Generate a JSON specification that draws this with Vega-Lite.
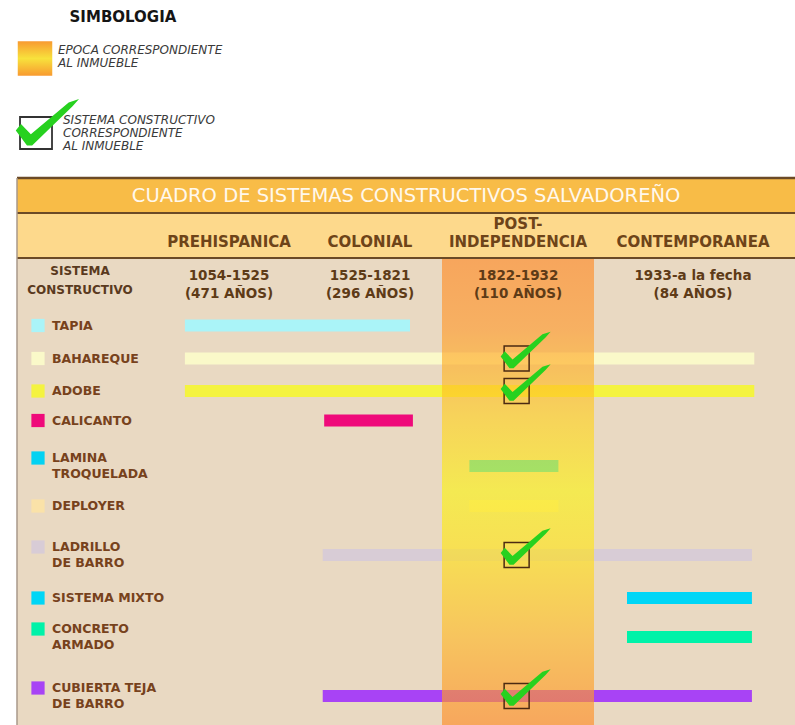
{
  "$schema": "https://vega.github.io/schema/vega-lite/v6.json",
  "width": 795,
  "height": 725,
  "padding": 0,
  "autosize": {"type": "none"},
  "background": "#ffffff",
  "config": {"view": {"stroke": null}, "axis": {"disable": true}, "font": "DejaVu Sans"},
  "datasets": {
    "sistemas": [
      {"orden": 1, "sistema": "TAPIA", "etiqueta": "TAPIA", "desde": 1139, "hasta": 1756, "marcado": false},
      {"orden": 2, "sistema": "BAHAREQUE", "etiqueta": "BAHAREQUE", "desde": 1139, "hasta": 2001, "marcado": true},
      {"orden": 3, "sistema": "ADOBE", "etiqueta": "ADOBE", "desde": 1139, "hasta": 2001, "marcado": true},
      {"orden": 4, "sistema": "CALICANTO", "etiqueta": "CALICANTO", "desde": 1579, "hasta": 1762, "marcado": false},
      {"orden": 5, "sistema": "LAMINA TROQUELADA", "etiqueta": "LAMINA\nTROQUELADA", "desde": 1842, "hasta": 1907, "marcado": false},
      {"orden": 6, "sistema": "DEPLOYER", "etiqueta": "DEPLOYER", "desde": 1842, "hasta": 1907, "marcado": false},
      {"orden": 7, "sistema": "LADRILLO DE BARRO", "etiqueta": "LADRILLO\nDE BARRO", "desde": 1576, "hasta": 2000, "marcado": true},
      {"orden": 8, "sistema": "SISTEMA MIXTO", "etiqueta": "SISTEMA MIXTO", "desde": 1947, "hasta": 2000, "marcado": false},
      {"orden": 9, "sistema": "CONCRETO ARMADO", "etiqueta": "CONCRETO\nARMADO", "desde": 1947, "hasta": 2000, "marcado": false},
      {"orden": 10, "sistema": "CUBIERTA TEJA DE BARRO", "etiqueta": "CUBIERTA TEJA\nDE BARRO", "desde": 1576, "hasta": 2000, "marcado": true}
    ],
    "periodos": [
      {"nombre": "PREHISPANICA", "desde": 1054, "hasta": 1525, "fechas": "1054-1525\n(471 AÑOS)", "resaltado": false},
      {"nombre": "COLONIAL", "desde": 1525, "hasta": 1822, "fechas": "1525-1821\n(296 AÑOS)", "resaltado": false},
      {"nombre": "POST-\nINDEPENDENCIA", "desde": 1822, "hasta": 1933, "fechas": "1822-1932\n(110 AÑOS)", "resaltado": true},
      {"nombre": "CONTEMPORANEA", "desde": 1933, "hasta": 2017, "fechas": "1933-a la fecha\n(84 AÑOS)", "resaltado": false}
    ],
    "encabezado": [
      {"titulo": "CUADRO DE SISTEMAS CONSTRUCTIVOS SALVADOREÑO", "columna": "SISTEMA\nCONSTRUCTIVO"}
    ],
    "simbologia": [
      {"simbolo": "titulo", "texto": "SIMBOLOGIA"},
      {"simbolo": "epoca", "texto": "EPOCA CORRESPONDIENTE\nAL INMUEBLE"},
      {"simbolo": "sistema", "texto": "SISTEMA CONSTRUCTIVO\nCORRESPONDIENTE\nAL INMUEBLE"}
    ]
  },
  "layer": [
    {
      "data": {"name": "encabezado"},
      "mark": {"type": "rect", "fill": "#F8BC47"},
      "encoding": {
        "x": {"datum": 112, "type": "quantitative", "scale": {"domain": [0, 1054, 1525, 1822, 1933, 2017], "range": [0, 160, 298, 442, 594, 792], "zero": false, "nice": false}},
        "x2": {"datum": 2040},
        "y": {"datum": -5, "type": "quantitative", "scale": {"domain": [-8, -7, -6, -5, -4, -3, -2, -1, 0, 1, 2, 3, 4, 5, 6, 7, 8, 9, 10, 11], "range": [17, 58.5, 133, 178, 196, 213, 242, 258, 284, 325.5, 358.5, 391, 420.5, 466, 506, 555, 598, 637, 696, 725], "zero": false, "nice": false}},
        "y2": {"datum": -3}
      }
    },
    {
      "data": {"name": "encabezado"},
      "mark": {"type": "rect", "fill": "#FDD98C"},
      "encoding": {
        "x": {"datum": 112, "type": "quantitative", "scale": {"domain": [0, 1054, 1525, 1822, 1933, 2017], "range": [0, 160, 298, 442, 594, 792], "zero": false, "nice": false}},
        "x2": {"datum": 2040},
        "y": {"datum": -3, "type": "quantitative", "scale": {"domain": [-8, -7, -6, -5, -4, -3, -2, -1, 0, 1, 2, 3, 4, 5, 6, 7, 8, 9, 10, 11], "range": [17, 58.5, 133, 178, 196, 213, 242, 258, 284, 325.5, 358.5, 391, 420.5, 466, 506, 555, 598, 637, 696, 725], "zero": false, "nice": false}},
        "y2": {"datum": -1}
      }
    },
    {
      "data": {"name": "encabezado"},
      "mark": {"type": "rect", "fill": "#E9D9C2"},
      "encoding": {
        "x": {"datum": 112, "type": "quantitative", "scale": {"domain": [0, 1054, 1525, 1822, 1933, 2017], "range": [0, 160, 298, 442, 594, 792], "zero": false, "nice": false}},
        "x2": {"datum": 2040},
        "y": {"datum": -1, "type": "quantitative", "scale": {"domain": [-8, -7, -6, -5, -4, -3, -2, -1, 0, 1, 2, 3, 4, 5, 6, 7, 8, 9, 10, 11], "range": [17, 58.5, 133, 178, 196, 213, 242, 258, 284, 325.5, 358.5, 391, 420.5, 466, 506, 555, 598, 637, 696, 725], "zero": false, "nice": false}},
        "y2": {"datum": 11}
      }
    },
    {
      "data": {"name": "sistemas"},
      "mark": {"type": "rule", "strokeWidth": 12, "strokeCap": "butt", "opacity": 1},
      "encoding": {
        "x": {"field": "desde", "type": "quantitative", "scale": {"domain": [0, 1054, 1525, 1822, 1933, 2017], "range": [0, 160, 298, 442, 594, 792], "zero": false, "nice": false}},
        "x2": {"field": "hasta"},
        "y": {"field": "orden", "type": "quantitative", "scale": {"domain": [-8, -7, -6, -5, -4, -3, -2, -1, 0, 1, 2, 3, 4, 5, 6, 7, 8, 9, 10, 11], "range": [17, 58.5, 133, 178, 196, 213, 242, 258, 284, 325.5, 358.5, 391, 420.5, 466, 506, 555, 598, 637, 696, 725], "zero": false, "nice": false}},
        "color": {"field": "sistema", "type": "nominal", "legend": null, "scale": {"domain": ["TAPIA", "BAHAREQUE", "ADOBE", "CALICANTO", "LAMINA TROQUELADA", "DEPLOYER", "LADRILLO DE BARRO", "SISTEMA MIXTO", "CONCRETO ARMADO", "CUBIERTA TEJA DE BARRO"], "range": ["#AAF4F8", "#FAF9C9", "#F4F33F", "#EF0A7A", "#04D2F2", "#FAE2A8", "#D8CCD6", "#00D6F6", "#00F2A8", "#A843F5"]}}
      }
    },
    {
      "data": {"name": "periodos"},
      "transform": [{"filter": {"field": "resaltado", "equal": true}}],
      "mark": {
        "type": "rect",
        "fillOpacity": 0.65,
        "fill": {
          "gradient": "linear", "x1": 0, "y1": 0, "x2": 0, "y2": 1,
          "stops": [
            {"offset": 0, "color": "#FF8A26"},
            {"offset": 0.15, "color": "#FF9A2E"},
            {"offset": 0.34, "color": "#FFD022"},
            {"offset": 0.5, "color": "#FAF216"},
            {"offset": 0.62, "color": "#FFE418"},
            {"offset": 0.82, "color": "#FFB729"},
            {"offset": 1, "color": "#FF8C27"}
          ]
        }
      },
      "encoding": {
        "x": {"field": "desde", "type": "quantitative", "scale": {"domain": [0, 1054, 1525, 1822, 1933, 2017], "range": [0, 160, 298, 442, 594, 792], "zero": false, "nice": false}},
        "x2": {"field": "hasta"},
        "y": {"datum": -1, "type": "quantitative", "scale": {"domain": [-8, -7, -6, -5, -4, -3, -2, -1, 0, 1, 2, 3, 4, 5, 6, 7, 8, 9, 10, 11], "range": [17, 58.5, 133, 178, 196, 213, 242, 258, 284, 325.5, 358.5, 391, 420.5, 466, 506, 555, 598, 637, 696, 725], "zero": false, "nice": false}},
        "y2": {"datum": 11}
      }
    },
    {
      "data": {"name": "encabezado"},
      "mark": {"type": "rule", "color": "#6B4A26", "strokeWidth": 2.5},
      "encoding": {
        "x": {"datum": 112, "type": "quantitative", "scale": {"domain": [0, 1054, 1525, 1822, 1933, 2017], "range": [0, 160, 298, 442, 594, 792], "zero": false, "nice": false}},
        "x2": {"datum": 2040},
        "y": {"datum": -5, "type": "quantitative", "scale": {"domain": [-8, -7, -6, -5, -4, -3, -2, -1, 0, 1, 2, 3, 4, 5, 6, 7, 8, 9, 10, 11], "range": [17, 58.5, 133, 178, 196, 213, 242, 258, 284, 325.5, 358.5, 391, 420.5, 466, 506, 555, 598, 637, 696, 725], "zero": false, "nice": false}}
      }
    },
    {
      "data": {"name": "encabezado"},
      "mark": {"type": "rule", "color": "#6B4A26", "strokeWidth": 2},
      "encoding": {
        "x": {"datum": 112, "type": "quantitative", "scale": {"domain": [0, 1054, 1525, 1822, 1933, 2017], "range": [0, 160, 298, 442, 594, 792], "zero": false, "nice": false}},
        "x2": {"datum": 2040},
        "y": {"datum": -3, "type": "quantitative", "scale": {"domain": [-8, -7, -6, -5, -4, -3, -2, -1, 0, 1, 2, 3, 4, 5, 6, 7, 8, 9, 10, 11], "range": [17, 58.5, 133, 178, 196, 213, 242, 258, 284, 325.5, 358.5, 391, 420.5, 466, 506, 555, 598, 637, 696, 725], "zero": false, "nice": false}}
      }
    },
    {
      "data": {"name": "encabezado"},
      "mark": {"type": "rule", "color": "#6B4A26", "strokeWidth": 2},
      "encoding": {
        "x": {"datum": 112, "type": "quantitative", "scale": {"domain": [0, 1054, 1525, 1822, 1933, 2017], "range": [0, 160, 298, 442, 594, 792], "zero": false, "nice": false}},
        "x2": {"datum": 2040},
        "y": {"datum": -1, "type": "quantitative", "scale": {"domain": [-8, -7, -6, -5, -4, -3, -2, -1, 0, 1, 2, 3, 4, 5, 6, 7, 8, 9, 10, 11], "range": [17, 58.5, 133, 178, 196, 213, 242, 258, 284, 325.5, 358.5, 391, 420.5, 466, 506, 555, 598, 637, 696, 725], "zero": false, "nice": false}}
      }
    },
    {
      "data": {"name": "encabezado"},
      "mark": {"type": "rule", "color": "#A8998A", "strokeWidth": 1.5},
      "encoding": {
        "x": {"datum": 112, "type": "quantitative", "scale": {"domain": [0, 1054, 1525, 1822, 1933, 2017], "range": [0, 160, 298, 442, 594, 792], "zero": false, "nice": false}},
        "y": {"datum": -5, "type": "quantitative", "scale": {"domain": [-8, -7, -6, -5, -4, -3, -2, -1, 0, 1, 2, 3, 4, 5, 6, 7, 8, 9, 10, 11], "range": [17, 58.5, 133, 178, 196, 213, 242, 258, 284, 325.5, 358.5, 391, 420.5, 466, 506, 555, 598, 637, 696, 725], "zero": false, "nice": false}},
        "y2": {"datum": 11}
      }
    },
    {
      "data": {"name": "encabezado"},
      "mark": {"type": "text", "fontSize": 19.5, "color": "#FFF8EC", "align": "center", "baseline": "middle"},
      "encoding": {
        "x": {"datum": 1748, "type": "quantitative", "scale": {"domain": [0, 1054, 1525, 1822, 1933, 2017], "range": [0, 160, 298, 442, 594, 792], "zero": false, "nice": false}},
        "y": {"datum": -4, "type": "quantitative", "scale": {"domain": [-8, -7, -6, -5, -4, -3, -2, -1, 0, 1, 2, 3, 4, 5, 6, 7, 8, 9, 10, 11], "range": [17, 58.5, 133, 178, 196, 213, 242, 258, 284, 325.5, 358.5, 391, 420.5, 466, 506, 555, 598, 637, 696, 725], "zero": false, "nice": false}},
        "text": {"field": "titulo"}
      }
    },
    {
      "data": {"name": "periodos"},
      "transform": [
        {"filter": "indexof(datum.nombre, '\\n') < 0"},
        {"fold": ["desde", "hasta"], "as": ["extremo", "anio"]},
        {"aggregate": [{"op": "mean", "field": "anio", "as": "centro"}], "groupby": ["nombre"]}
      ],
      "mark": {"type": "text", "fontSize": 15, "fontWeight": "bold", "color": "#6E4419", "align": "center", "baseline": "middle"},
      "encoding": {
        "x": {"field": "centro", "type": "quantitative", "scale": {"domain": [0, 1054, 1525, 1822, 1933, 2017], "range": [0, 160, 298, 442, 594, 792], "zero": false, "nice": false}},
        "y": {"datum": -2, "type": "quantitative", "scale": {"domain": [-8, -7, -6, -5, -4, -3, -2, -1, 0, 1, 2, 3, 4, 5, 6, 7, 8, 9, 10, 11], "range": [17, 58.5, 133, 178, 196, 213, 242, 258, 284, 325.5, 358.5, 391, 420.5, 466, 506, 555, 598, 637, 696, 725], "zero": false, "nice": false}},
        "text": {"field": "nombre"}
      }
    },
    {
      "data": {"name": "periodos"},
      "transform": [
        {"filter": "indexof(datum.nombre, '\\n') >= 0"},
        {"fold": ["desde", "hasta"], "as": ["extremo", "anio"]},
        {"aggregate": [{"op": "mean", "field": "anio", "as": "centro"}], "groupby": ["nombre"]}
      ],
      "mark": {"type": "text", "fontSize": 15, "fontWeight": "bold", "color": "#6E4419", "align": "center", "baseline": "middle", "lineBreak": "\n", "lineHeight": 18, "dy": -18},
      "encoding": {
        "x": {"field": "centro", "type": "quantitative", "scale": {"domain": [0, 1054, 1525, 1822, 1933, 2017], "range": [0, 160, 298, 442, 594, 792], "zero": false, "nice": false}},
        "y": {"datum": -2, "type": "quantitative", "scale": {"domain": [-8, -7, -6, -5, -4, -3, -2, -1, 0, 1, 2, 3, 4, 5, 6, 7, 8, 9, 10, 11], "range": [17, 58.5, 133, 178, 196, 213, 242, 258, 284, 325.5, 358.5, 391, 420.5, 466, 506, 555, 598, 637, 696, 725], "zero": false, "nice": false}},
        "text": {"field": "nombre"}
      }
    },
    {
      "data": {"name": "periodos"},
      "transform": [
        {"fold": ["desde", "hasta"], "as": ["extremo", "anio"]},
        {"aggregate": [{"op": "mean", "field": "anio", "as": "centro"}], "groupby": ["fechas"]}
      ],
      "mark": {"type": "text", "fontSize": 13.5, "fontWeight": "bold", "color": "#5E3B17", "align": "center", "baseline": "middle", "lineBreak": "\n", "lineHeight": 18, "dy": -8},
      "encoding": {
        "x": {"field": "centro", "type": "quantitative", "scale": {"domain": [0, 1054, 1525, 1822, 1933, 2017], "range": [0, 160, 298, 442, 594, 792], "zero": false, "nice": false}},
        "y": {"datum": 0, "type": "quantitative", "scale": {"domain": [-8, -7, -6, -5, -4, -3, -2, -1, 0, 1, 2, 3, 4, 5, 6, 7, 8, 9, 10, 11], "range": [17, 58.5, 133, 178, 196, 213, 242, 258, 284, 325.5, 358.5, 391, 420.5, 466, 506, 555, 598, 637, 696, 725], "zero": false, "nice": false}},
        "text": {"field": "fechas"}
      }
    },
    {
      "data": {"name": "encabezado"},
      "mark": {"type": "text", "fontSize": 12, "fontWeight": "bold", "color": "#5A3A1E", "align": "center", "baseline": "middle", "lineBreak": "\n", "lineHeight": 19, "dy": -13},
      "encoding": {
        "x": {"datum": 527, "type": "quantitative", "scale": {"domain": [0, 1054, 1525, 1822, 1933, 2017], "range": [0, 160, 298, 442, 594, 792], "zero": false, "nice": false}},
        "y": {"datum": 0, "type": "quantitative", "scale": {"domain": [-8, -7, -6, -5, -4, -3, -2, -1, 0, 1, 2, 3, 4, 5, 6, 7, 8, 9, 10, 11], "range": [17, 58.5, 133, 178, 196, 213, 242, 258, 284, 325.5, 358.5, 391, 420.5, 466, 506, 555, 598, 637, 696, 725], "zero": false, "nice": false}},
        "text": {"field": "columna"}
      }
    },
    {
      "data": {"name": "sistemas"},
      "transform": [{"filter": "indexof(datum.etiqueta, '\\n') < 0"}],
      "mark": {"type": "point", "shape": "square", "filled": true, "size": 175, "opacity": 1, "strokeWidth": 0},
      "encoding": {
        "x": {"datum": 250.3, "type": "quantitative", "scale": {"domain": [0, 1054, 1525, 1822, 1933, 2017], "range": [0, 160, 298, 442, 594, 792], "zero": false, "nice": false}},
        "y": {"field": "orden", "type": "quantitative", "scale": {"domain": [-8, -7, -6, -5, -4, -3, -2, -1, 0, 1, 2, 3, 4, 5, 6, 7, 8, 9, 10, 11], "range": [17, 58.5, 133, 178, 196, 213, 242, 258, 284, 325.5, 358.5, 391, 420.5, 466, 506, 555, 598, 637, 696, 725], "zero": false, "nice": false}},
        "color": {"field": "sistema", "type": "nominal", "legend": null, "scale": {"domain": ["TAPIA", "BAHAREQUE", "ADOBE", "CALICANTO", "LAMINA TROQUELADA", "DEPLOYER", "LADRILLO DE BARRO", "SISTEMA MIXTO", "CONCRETO ARMADO", "CUBIERTA TEJA DE BARRO"], "range": ["#AAF4F8", "#FAF9C9", "#F4F33F", "#EF0A7A", "#04D2F2", "#FAE2A8", "#D8CCD6", "#00D6F6", "#00F2A8", "#A843F5"]}}
      }
    },
    {
      "data": {"name": "sistemas"},
      "transform": [{"filter": "indexof(datum.etiqueta, '\\n') >= 0"}],
      "mark": {"type": "point", "shape": "square", "filled": true, "size": 175, "opacity": 1, "strokeWidth": 0, "yOffset": -8},
      "encoding": {
        "x": {"datum": 250.3, "type": "quantitative", "scale": {"domain": [0, 1054, 1525, 1822, 1933, 2017], "range": [0, 160, 298, 442, 594, 792], "zero": false, "nice": false}},
        "y": {"field": "orden", "type": "quantitative", "scale": {"domain": [-8, -7, -6, -5, -4, -3, -2, -1, 0, 1, 2, 3, 4, 5, 6, 7, 8, 9, 10, 11], "range": [17, 58.5, 133, 178, 196, 213, 242, 258, 284, 325.5, 358.5, 391, 420.5, 466, 506, 555, 598, 637, 696, 725], "zero": false, "nice": false}},
        "color": {"field": "sistema", "type": "nominal", "legend": null, "scale": {"domain": ["TAPIA", "BAHAREQUE", "ADOBE", "CALICANTO", "LAMINA TROQUELADA", "DEPLOYER", "LADRILLO DE BARRO", "SISTEMA MIXTO", "CONCRETO ARMADO", "CUBIERTA TEJA DE BARRO"], "range": ["#AAF4F8", "#FAF9C9", "#F4F33F", "#EF0A7A", "#04D2F2", "#FAE2A8", "#D8CCD6", "#00D6F6", "#00F2A8", "#A843F5"]}}
      }
    },
    {
      "data": {"name": "sistemas"},
      "transform": [{"filter": "indexof(datum.etiqueta, '\\n') < 0"}],
      "mark": {"type": "text", "fontSize": 12.5, "fontWeight": "bold", "color": "#77421C", "align": "left", "baseline": "middle"},
      "encoding": {
        "x": {"datum": 342.6, "type": "quantitative", "scale": {"domain": [0, 1054, 1525, 1822, 1933, 2017], "range": [0, 160, 298, 442, 594, 792], "zero": false, "nice": false}},
        "y": {"field": "orden", "type": "quantitative", "scale": {"domain": [-8, -7, -6, -5, -4, -3, -2, -1, 0, 1, 2, 3, 4, 5, 6, 7, 8, 9, 10, 11], "range": [17, 58.5, 133, 178, 196, 213, 242, 258, 284, 325.5, 358.5, 391, 420.5, 466, 506, 555, 598, 637, 696, 725], "zero": false, "nice": false}},
        "text": {"field": "etiqueta"}
      }
    },
    {
      "data": {"name": "sistemas"},
      "transform": [{"filter": "indexof(datum.etiqueta, '\\n') >= 0"}],
      "mark": {"type": "text", "fontSize": 12.5, "fontWeight": "bold", "color": "#77421C", "align": "left", "baseline": "middle", "lineBreak": "\n", "lineHeight": 16, "dy": -8},
      "encoding": {
        "x": {"datum": 342.6, "type": "quantitative", "scale": {"domain": [0, 1054, 1525, 1822, 1933, 2017], "range": [0, 160, 298, 442, 594, 792], "zero": false, "nice": false}},
        "y": {"field": "orden", "type": "quantitative", "scale": {"domain": [-8, -7, -6, -5, -4, -3, -2, -1, 0, 1, 2, 3, 4, 5, 6, 7, 8, 9, 10, 11], "range": [17, 58.5, 133, 178, 196, 213, 242, 258, 284, 325.5, 358.5, 391, 420.5, 466, 506, 555, 598, 637, 696, 725], "zero": false, "nice": false}},
        "text": {"field": "etiqueta"}
      }
    },
    {
      "data": {"name": "sistemas"},
      "transform": [{"filter": {"field": "marcado", "equal": true}}],
      "mark": {"type": "point", "shape": "square", "filled": false, "size": 625, "opacity": 1, "color": "#4B2A12", "strokeWidth": 1.5},
      "encoding": {
        "x": {"datum": 1876.5, "type": "quantitative", "scale": {"domain": [0, 1054, 1525, 1822, 1933, 2017], "range": [0, 160, 298, 442, 594, 792], "zero": false, "nice": false}},
        "y": {"field": "orden", "type": "quantitative", "scale": {"domain": [-8, -7, -6, -5, -4, -3, -2, -1, 0, 1, 2, 3, 4, 5, 6, 7, 8, 9, 10, 11], "range": [17, 58.5, 133, 178, 196, 213, 242, 258, 284, 325.5, 358.5, 391, 420.5, 466, 506, 555, 598, 637, 696, 725], "zero": false, "nice": false}}
      }
    },
    {
      "data": {"name": "sistemas"},
      "transform": [{"filter": {"field": "marcado", "equal": true}}],
      "mark": {"type": "point", "shape": "M-0.47,-0.06L-0.35,-0.21L-0.12,0.03L0.76,-0.71L1,-0.79L0.85,-0.62L-0.09,0.29L-0.21,0.29Z", "filled": true, "size": 4624, "opacity": 1, "color": "#27D11F", "strokeWidth": 0},
      "encoding": {
        "x": {"datum": 1876.5, "type": "quantitative", "scale": {"domain": [0, 1054, 1525, 1822, 1933, 2017], "range": [0, 160, 298, 442, 594, 792], "zero": false, "nice": false}},
        "y": {"field": "orden", "type": "quantitative", "scale": {"domain": [-8, -7, -6, -5, -4, -3, -2, -1, 0, 1, 2, 3, 4, 5, 6, 7, 8, 9, 10, 11], "range": [17, 58.5, 133, 178, 196, 213, 242, 258, 284, 325.5, 358.5, 391, 420.5, 466, 506, 555, 598, 637, 696, 725], "zero": false, "nice": false}}
      }
    },
    {
      "data": {"name": "simbologia"},
      "transform": [{"filter": {"field": "simbolo", "equal": "titulo"}}],
      "mark": {"type": "text", "fontSize": 15, "fontWeight": "bold", "color": "#151515", "align": "center", "baseline": "middle"},
      "encoding": {
        "x": {"datum": 810, "type": "quantitative", "scale": {"domain": [0, 1054, 1525, 1822, 1933, 2017], "range": [0, 160, 298, 442, 594, 792], "zero": false, "nice": false}},
        "y": {"datum": -8, "type": "quantitative", "scale": {"domain": [-8, -7, -6, -5, -4, -3, -2, -1, 0, 1, 2, 3, 4, 5, 6, 7, 8, 9, 10, 11], "range": [17, 58.5, 133, 178, 196, 213, 242, 258, 284, 325.5, 358.5, 391, 420.5, 466, 506, 555, 598, 637, 696, 725], "zero": false, "nice": false}},
        "text": {"field": "texto"}
      }
    },
    {
      "data": {"name": "simbologia"},
      "transform": [{"filter": {"field": "simbolo", "equal": "epoca"}}],
      "mark": {
        "type": "point", "shape": "square", "filled": true, "size": 1190, "opacity": 1, "strokeWidth": 0,
        "fill": {
          "gradient": "linear", "x1": 0, "y1": 0, "x2": 0, "y2": 1,
          "stops": [
            {"offset": 0, "color": "#F89A30"},
            {"offset": 0.5, "color": "#F8E23C"},
            {"offset": 1, "color": "#F89A30"}
          ]
        }
      },
      "encoding": {
        "x": {"datum": 230.6, "type": "quantitative", "scale": {"domain": [0, 1054, 1525, 1822, 1933, 2017], "range": [0, 160, 298, 442, 594, 792], "zero": false, "nice": false}},
        "y": {"datum": -7, "type": "quantitative", "scale": {"domain": [-8, -7, -6, -5, -4, -3, -2, -1, 0, 1, 2, 3, 4, 5, 6, 7, 8, 9, 10, 11], "range": [17, 58.5, 133, 178, 196, 213, 242, 258, 284, 325.5, 358.5, 391, 420.5, 466, 506, 555, 598, 637, 696, 725], "zero": false, "nice": false}}
      }
    },
    {
      "data": {"name": "simbologia"},
      "transform": [{"filter": {"field": "simbolo", "equal": "epoca"}}],
      "mark": {"type": "text", "fontSize": 12, "fontStyle": "italic", "color": "#3A3A3A", "align": "left", "baseline": "middle", "lineBreak": "\n", "lineHeight": 13, "dy": -8.5},
      "encoding": {
        "x": {"datum": 382, "type": "quantitative", "scale": {"domain": [0, 1054, 1525, 1822, 1933, 2017], "range": [0, 160, 298, 442, 594, 792], "zero": false, "nice": false}},
        "y": {"datum": -7, "type": "quantitative", "scale": {"domain": [-8, -7, -6, -5, -4, -3, -2, -1, 0, 1, 2, 3, 4, 5, 6, 7, 8, 9, 10, 11], "range": [17, 58.5, 133, 178, 196, 213, 242, 258, 284, 325.5, 358.5, 391, 420.5, 466, 506, 555, 598, 637, 696, 725], "zero": false, "nice": false}},
        "text": {"field": "texto"}
      }
    },
    {
      "data": {"name": "simbologia"},
      "transform": [{"filter": {"field": "simbolo", "equal": "sistema"}}],
      "mark": {"type": "point", "shape": "square", "filled": false, "size": 1024, "opacity": 1, "color": "#333333", "strokeWidth": 1.8},
      "encoding": {
        "x": {"datum": 237.2, "type": "quantitative", "scale": {"domain": [0, 1054, 1525, 1822, 1933, 2017], "range": [0, 160, 298, 442, 594, 792], "zero": false, "nice": false}},
        "y": {"datum": -6, "type": "quantitative", "scale": {"domain": [-8, -7, -6, -5, -4, -3, -2, -1, 0, 1, 2, 3, 4, 5, 6, 7, 8, 9, 10, 11], "range": [17, 58.5, 133, 178, 196, 213, 242, 258, 284, 325.5, 358.5, 391, 420.5, 466, 506, 555, 598, 637, 696, 725], "zero": false, "nice": false}}
      }
    },
    {
      "data": {"name": "simbologia"},
      "transform": [{"filter": {"field": "simbolo", "equal": "sistema"}}],
      "mark": {"type": "point", "shape": "M-0.47,-0.06L-0.35,-0.21L-0.12,0.03L0.76,-0.71L1,-0.79L0.85,-0.62L-0.09,0.29L-0.21,0.29Z", "filled": true, "size": 7396, "opacity": 1, "color": "#27D11F", "strokeWidth": 0},
      "encoding": {
        "x": {"datum": 237.2, "type": "quantitative", "scale": {"domain": [0, 1054, 1525, 1822, 1933, 2017], "range": [0, 160, 298, 442, 594, 792], "zero": false, "nice": false}},
        "y": {"datum": -6, "type": "quantitative", "scale": {"domain": [-8, -7, -6, -5, -4, -3, -2, -1, 0, 1, 2, 3, 4, 5, 6, 7, 8, 9, 10, 11], "range": [17, 58.5, 133, 178, 196, 213, 242, 258, 284, 325.5, 358.5, 391, 420.5, 466, 506, 555, 598, 637, 696, 725], "zero": false, "nice": false}}
      }
    },
    {
      "data": {"name": "simbologia"},
      "transform": [{"filter": {"field": "simbolo", "equal": "sistema"}}],
      "mark": {"type": "text", "fontSize": 12, "fontStyle": "italic", "color": "#3A3A3A", "align": "left", "baseline": "middle", "lineBreak": "\n", "lineHeight": 13, "dy": -13},
      "encoding": {
        "x": {"datum": 415, "type": "quantitative", "scale": {"domain": [0, 1054, 1525, 1822, 1933, 2017], "range": [0, 160, 298, 442, 594, 792], "zero": false, "nice": false}},
        "y": {"datum": -6, "type": "quantitative", "scale": {"domain": [-8, -7, -6, -5, -4, -3, -2, -1, 0, 1, 2, 3, 4, 5, 6, 7, 8, 9, 10, 11], "range": [17, 58.5, 133, 178, 196, 213, 242, 258, 284, 325.5, 358.5, 391, 420.5, 466, 506, 555, 598, 637, 696, 725], "zero": false, "nice": false}},
        "text": {"field": "texto"}
      }
    }
  ]
}
